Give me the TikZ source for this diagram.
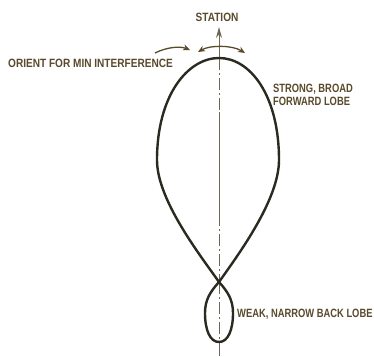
\documentclass[tikz,border=0pt]{standalone}
\usepackage{fontspec}
\setmainfont{Liberation Sans}
\usetikzlibrary{arrows.meta}
\definecolor{ink}{HTML}{2B2A20}
\definecolor{txt}{HTML}{5A4A2C}
\definecolor{axisc}{HTML}{6E6755}
\tikzset{
  lobe/.style={ink, line width=2.4pt, line join=round},
  axisline/.style={axisc, line width=1pt},
  dashdot/.style={axisline, dash pattern=on 12pt off 3pt on 2pt off 3pt},
  lbl/.style={txt, font=\bfseries\fontsize{12}{13}\selectfont, inner sep=0pt, xscale=0.84, align=left},
  swing/.style={txt, line width=1.3pt, -{Stealth[length=7pt,width=6pt]}},
  swingb/.style={txt, line width=1.3pt, {Stealth[length=7pt,width=6pt]}-{Stealth[length=7pt,width=6pt]}}
}
\begin{document}
\begin{tikzpicture}[x=1pt,y=-1pt]
\useasboundingbox (0,0) rectangle (374,356);
\fill[white] (0,0) rectangle (374,356);
% key points
\coordinate (top) at (219,58);
\coordinate (cross) at (219,282);
\coordinate (bot) at (219,342);
\coordinate (arrtip) at (219,27);
\coordinate (axend) at (219,356);
% axis
\draw[axisline, -{Stealth[length=11pt,width=6pt]}] (top) -- (arrtip);
\draw[dashdot] (top) -- (219,112);
\draw[axisline] (219,112) -- (219,214);
\draw[dashdot] (219,214) -- (cross);
\draw[dashdot] (cross) -- (bot);
\draw[axisline] (bot) -- (axend);
% big forward lobe
\draw[lobe] (cross) .. controls (200,255) and (157,200) .. (157,160)
  .. controls (157,95) and (188,58) .. (top)
  .. controls (250,58) and (279,95) .. (279,160)
  .. controls (279,200) and (238,255) .. (cross);
% small back lobe
\draw[lobe] (cross) .. controls (210,292) and (205,300) .. (205,313)
  .. controls (205,330) and (210,342) .. (bot)
  .. controls (228,342) and (233,330) .. (233,313)
  .. controls (233,300) and (228,292) .. (cross);
% swing arrows
\coordinate (la) at (155,53);
\coordinate (lb) at (190,50);
\draw[swing] (la) .. controls (167,47) and (180,46) .. (lb);
\coordinate (ra) at (198,52);
\coordinate (rb) at (245,53);
\draw[swingb] (ra) .. controls (210,45) and (232,45) .. (rb);
% labels
\node[lbl, anchor=base] (station) at (217,21) {STATION};
\node[lbl, anchor=base west] (orient) at (8,67) {ORIENT FOR MIN INTERFERENCE};
\node[lbl, xscale=0.93, anchor=north west] (strong) at (273,84) {STRONG, BROAD\\FORWARD LOBE};
\node[lbl, xscale=0.93, anchor=base west] (weak) at (237,317) {WEAK, NARROW BACK LOBE};
\end{tikzpicture}
\end{document}
